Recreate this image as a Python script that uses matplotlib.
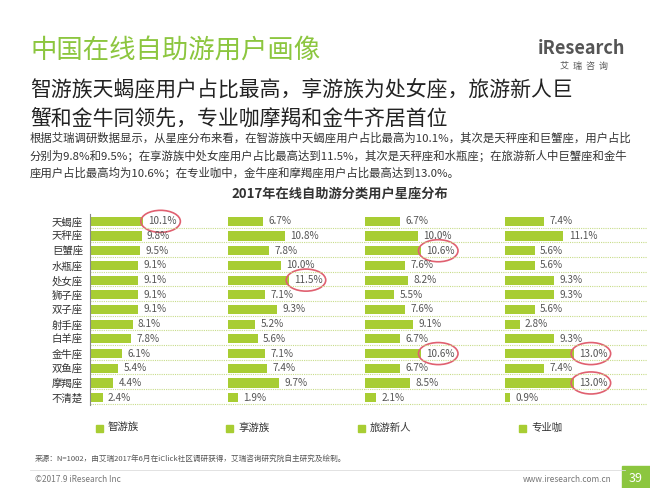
import matplotlib
matplotlib.use("Agg")
import matplotlib.pyplot as plt
from matplotlib.patches import Ellipse, Rectangle

plt.rcParams['font.family'] = ['Noto Sans CJK SC', 'DejaVu Sans']

categories = ["天蝎座","天秤座","巨蟹座","水瓶座","处女座","狮子座","双子座","射手座","白羊座","金牛座","双鱼座","摩羯座","不清楚"]
series_names = ["智游族","享游族","旅游新人","专业咖"]
zhiyou = [10.1,9.8,9.5,9.1,9.1,9.1,9.1,8.1,7.8,6.1,5.4,4.4,2.4]
xiangyou = [6.7,10.8,7.8,10.0,11.5,7.1,9.3,5.2,5.6,7.1,7.4,9.7,1.9]
xinren = [6.7,10.0,10.6,7.6,8.2,5.5,7.6,9.1,6.7,10.6,6.7,8.5,2.1]
zhuanye = [7.4,11.1,5.6,5.6,9.3,9.3,5.6,2.8,9.3,13.0,7.4,13.0,0.9]
series = [zhiyou, xiangyou, xinren, zhuanye]
highlights = [[0],[4],[2,9],[9,11]]

green = "#a8cd33"
W, H = 650, 488
fig = plt.figure(figsize=(6.5,4.88), dpi=100)

def fx(px): return px/W
def fy(py): return 1-py/H

# header
fig.text(fx(30), fy(50), "中国在线自助游用户画像", color="#8cc63f", fontsize=19, va="center", ha="left")
fig.text(fx(30), fy(90), "智游族天蝎座用户占比最高，享游族为处女座，旅游新人巨", fontsize=15, va="center", color="#222222")
fig.text(fx(30), fy(119), "蟹和金牛同领先，专业咖摩羯和金牛齐居首位", fontsize=15, va="center", color="#222222")
para = ["根据艾瑞调研数据显示，从星座分布来看，在智游族中天蝎座用户占比最高为10.1%，其次是天秤座和巨蟹座，用户占比",
        "分别为9.8%和9.5%；在享游族中处女座用户占比最高达到11.5%，其次是天秤座和水瓶座；在旅游新人中巨蟹座和金牛",
        "座用户占比最高均为10.6%；在专业咖中，金牛座和摩羯座用户占比最高达到13.0%。"]
for i, t in enumerate(para):
    fig.text(fx(30), fy(138+i*17.5), t, fontsize=8.2, va="center", color="#333333")
fig.text(fx(340), fy(194), "2017年在线自助游分类用户星座分布", fontsize=9.5, weight="bold", ha="center", va="center", color="#333333")
# logo
fig.text(fx(538), fy(48), "iResearch", fontsize=13, color="#555555", ha="left", va="center", weight="bold")
fig.text(fx(560), fy(66), "艾  瑞  咨  询", fontsize=6.5, color="#555555", ha="left", va="center")

# panels
starts = [90, 228, 365, 505]
pw = 137
top, bot = 214, 405
n = len(categories)
for k in range(4):
    ax = fig.add_axes([fx(starts[k]), fy(bot), pw/W, (bot-top)/H])
    y = list(range(n))
    ax.barh(y, series[k], height=0.62, color=green)
    for i, v in enumerate(series[k]):
        ax.text(v+1.0, i, f"{v:.1f}%", va="center", ha="left", fontsize=7.2, color="#555555")
        ax.plot([0, 27], [i+0.42, i+0.42], ls=(0,(1,1)), color="#c8dc8a", lw=0.8, clip_on=False)
    for i in highlights[k]:
        v = series[k][i]
        ax.add_patch(Ellipse((v+3.3, i), 7.5, 1.5, fill=False, ec="#e06070", lw=1.2, clip_on=False))
    ax.set_xlim(0, 26)
    ax.set_ylim(n-0.5, -0.5)
    ax.set_xticks([])
    for s in ax.spines.values():
        s.set_visible(False)
    if k == 0:
        ax.spines['left'].set_visible(True)
        ax.spines['left'].set_color("#888888")
        ax.set_yticks(y)
        ax.set_yticklabels(categories, fontsize=7.5, color="#333333")
        ax.tick_params(axis='y', length=0, pad=5)
    else:
        ax.set_yticks([])

# legend
lx = [96, 226, 358, 519]
for k in range(4):
    fig.patches.append(Rectangle((fx(lx[k]), fy(432)), 7/W, 7/H, color=green, transform=fig.transFigure))
    fig.text(fx(lx[k]+12), fy(428), series_names[k], fontsize=7.5, va="center", color="#333333")

fig.text(fx(35), fy(459), "来源：N=1002，由艾瑞2017年6月在iClick社区调研获得，艾瑞咨询研究院自主研究及绘制。", fontsize=5.5, va="center", color="#555555")
fig.add_artist(plt.Line2D([fx(30), fx(625)], [fy(470), fy(470)], color="#dddddd", lw=0.6))
fig.text(fx(35), fy(479), "©2017.9 iResearch Inc", fontsize=6, va="center", color="#777777")
fig.text(fx(612), fy(479), "www.iresearch.com.cn", fontsize=6, va="center", ha="right", color="#777777")
fig.patches.append(Rectangle((fx(622), fy(488)), 28/W, 22/H, color="#8cc63f", transform=fig.transFigure))
fig.text(fx(636), fy(478), "39", fontsize=9, color="white", ha="center", va="center")

fig.savefig("out.png", dpi=100)
